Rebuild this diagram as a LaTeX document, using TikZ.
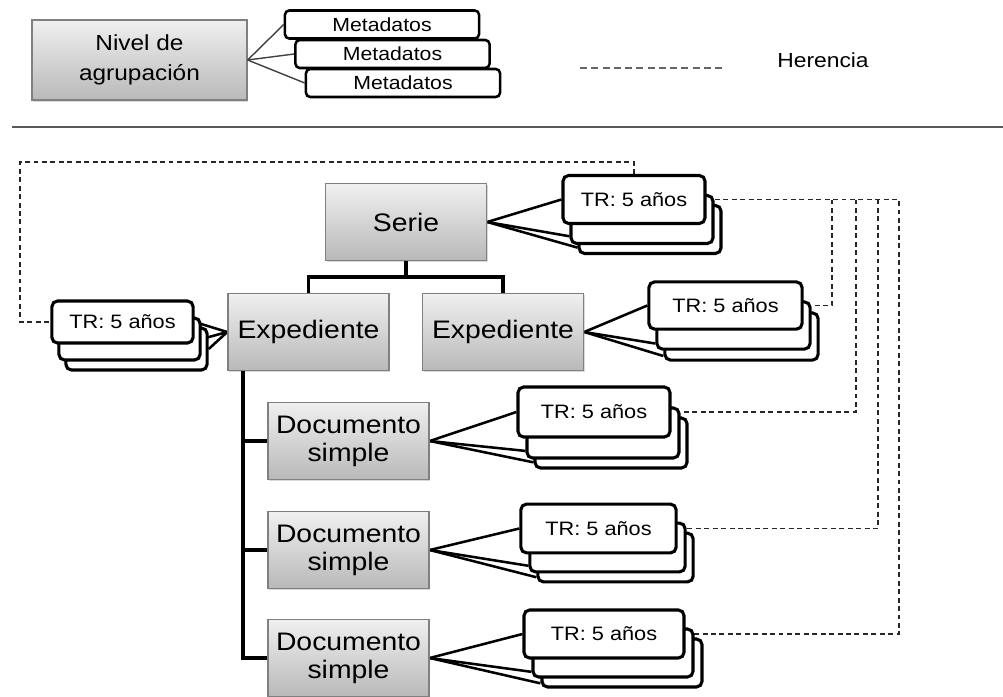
\documentclass[tikz,border=0pt]{standalone}
\usepackage{fontspec}
\setmainfont{Liberation Sans}[FakeStretch=1.12]
\usetikzlibrary{shadows,backgrounds}
\begin{document}
\begin{tikzpicture}[x=0.025cm, y=-0.025cm,
    caja/.style={draw=black!50, line width=0.9pt, top color=gray!12, bottom color=gray!55,
        drop shadow={shadow xshift=0.8pt, shadow yshift=-1.2pt, opacity=0.3},
        minimum width=4.03cm, minimum height=1.93cm, inner sep=0pt, align=center,
        font=\fontsize{18}{20}\selectfont},
    trbox/.style={draw, fill=white, line width=2.2pt, rounded corners=4pt,
        minimum height=1.2cm, inner sep=0pt, font=\fontsize{13.8}{16}\selectfont},
    metabox/.style={draw, fill=white, line width=1.8pt, rounded corners=3pt,
        minimum width=4.85cm, minimum height=0.7cm, inner sep=0pt,
        font=\fontsize{13.5}{15}\selectfont},
    rama/.style={line width=2.4pt},
    abanico/.style={line width=1.8pt},
    herencia/.style={line width=1.1pt, dash pattern=on 3.5pt off 2.5pt, black!85}]

    \useasboundingbox (0,0) rectangle (1003,696);

    % Leyenda
    \node[caja, minimum width=5.375cm, minimum height=2cm, font=\fontsize{15.5}{21}\selectfont] (niv) at (139.5,60) {Nivel de\\agrupación};
    \node[metabox] (meta1) at (382,24.5) {Metadatos};
    \node[metabox] (meta2) at (392.5,54) {Metadatos};
    \node[metabox] (meta3) at (403,83) {Metadatos};
    \draw[black!75, line width=1pt] (niv.east) -- (meta1.west);
    \draw[black!75, line width=1pt] (niv.east) -- (meta2.west);
    \draw[black!75, line width=1pt] (niv.east) -- (meta3.west);

    \coordinate (leyA) at (580,68);
    \coordinate (leyB) at (722,68);
    \draw[herencia, black!60, line width=0.9pt, dash pattern=on 5pt off 3pt] (leyA) -- (leyB);
    \node[font=\fontsize{14.5}{16}\selectfont] (herencia) at (823,60.5) {Herencia};

    \coordinate (sepA) at (12,127);
    \coordinate (sepB) at (1003,127);
    \draw[black!65, line width=1.3pt] (sepA) -- (sepB);

    % Niveles
    \node[caja] (serie) at (406,222) {Serie};
    \node[caja] (expI) at (308.5,332) {Expediente};
    \node[caja] (expD) at (503,332) {Expediente};
    \node[caja] (doc1) at (348.5,441) {Documento\\simple};
    \node[caja] (doc2) at (348.5,550) {Documento\\simple};
    \node[caja] (doc3) at (348.5,658) {Documento\\simple};

    % Tablas de retencion
    \node[trbox, minimum width=3.55cm] (trSerie-c) at (650,229.5) {};
    \node[trbox, minimum width=3.55cm] (trSerie-b) at (642,219.5) {};
    \node[trbox, minimum width=3.55cm] (trSerie) at (634,199.5) {TR: 5 años};

    \node[trbox, minimum width=3.53cm, minimum height=1.05cm] (trExpI-c) at (136.5,349) {};
    \node[trbox, minimum width=3.53cm, minimum height=1.05cm] (trExpI-b) at (129.5,339) {};
    \node[trbox, minimum width=3.53cm, minimum height=1.05cm] (trExpI) at (122.5,322) {TR: 5 años};

    \node[trbox, minimum width=3.83cm, minimum height=1.18cm] (trExpD-c) at (741.5,336.5) {};
    \node[trbox, minimum width=3.83cm, minimum height=1.18cm] (trExpD-b) at (733.5,325.5) {};
    \node[trbox, minimum width=3.83cm, minimum height=1.18cm] (trExpD) at (725.5,305.5) {TR: 5 años};

    \node[trbox, minimum width=3.8cm, minimum height=1.25cm] (trDoc1-c) at (611,443) {};
    \node[trbox, minimum width=3.8cm, minimum height=1.25cm] (trDoc1-b) at (603,433) {};
    \node[trbox, minimum width=3.8cm, minimum height=1.25cm] (trDoc1) at (594,412) {TR: 5 años};

    \node[trbox, minimum width=3.88cm, minimum height=1.22cm] (trDoc2-c) at (615.5,557.5) {};
    \node[trbox, minimum width=3.88cm, minimum height=1.22cm] (trDoc2-b) at (607.5,547.5) {};
    \node[trbox, minimum width=3.88cm, minimum height=1.22cm] (trDoc2) at (598.5,528.5) {TR: 5 años};

    \node[trbox, minimum width=4cm] (trDoc3-c) at (622,663) {};
    \node[trbox, minimum width=4cm] (trDoc3-b) at (613,653) {};
    \node[trbox, minimum width=4cm] (trDoc3) at (604,634) {TR: 5 años};

    % Jerarquia
    \coordinate (bus) at (406,277);
    \draw[rama] (serie.south) -- (bus) -| (expI.north);
    \draw[rama] (bus) -| (expD.north);
    \coordinate (tronco) at (243,371);
    \draw[rama] (tronco) |- (doc3.west);
    \draw[rama] (tronco |- doc1.west) -- (doc1.west);
    \draw[rama] (tronco |- doc2.west) -- (doc2.west);

    \begin{scope}[on background layer]
        % Uniones con las tablas
        \draw[abanico] (serie.east) -- (trSerie.west);
        \draw[abanico] (serie.east) -- (trSerie-b.193);
        \draw[abanico] (serie.east) -- (trSerie-c.194);
        \draw[abanico] (expI.west) -- (trExpI.east);
        \draw[abanico] (expI.west) -- (trExpI-b.east);
        \draw[abanico] (expI.west) -- (trExpI-c.east);
        \draw[abanico] (expD.east) -- (trExpD.west);
        \draw[abanico] (expD.east) -- (trExpD-b.193);
        \draw[abanico] (expD.east) -- (trExpD-c.194);
        \draw[abanico] (doc1.east) -- (trDoc1.west);
        \draw[abanico] (doc1.east) -- (trDoc1-b.193);
        \draw[abanico] (doc1.east) -- (trDoc1-c.194);
        \draw[abanico] (doc2.east) -- (trDoc2.west);
        \draw[abanico] (doc2.east) -- (trDoc2-b.193);
        \draw[abanico] (doc2.east) -- (trDoc2-c.194);
        \draw[abanico] (doc3.east) -- (trDoc3.west);
        \draw[abanico] (doc3.east) -- (trDoc3-b.193);
        \draw[abanico] (doc3.east) -- (trDoc3-c.194);

        % Herencia
        \coordinate (hizq) at (20,162);
        \draw[herencia] (trSerie.north) |- (hizq) |- (trExpI.west);
        \coordinate (hx1) at (832,199.5);
        \coordinate (hx2) at (856,199.5);
        \coordinate (hx3) at (878,199.5);
        \coordinate (hx4) at (899,199.5);
        \draw[herencia] (trSerie.east) -| (hx4 |- trDoc3.east) -- (trDoc3.east);
        \draw[herencia] (hx1) |- (trExpD.east);
        \draw[herencia] (hx2) |- (trDoc1.east);
        \draw[herencia] (hx3) |- (trDoc2.east);
    \end{scope}
\end{tikzpicture}
\end{document}
